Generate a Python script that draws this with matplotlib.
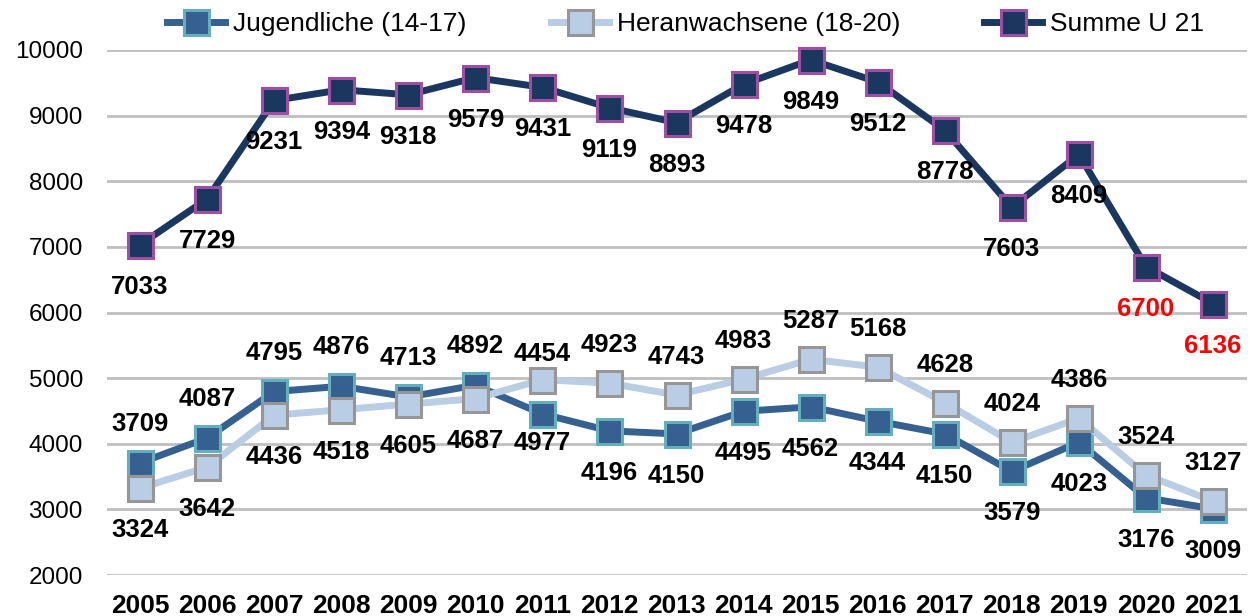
import matplotlib
matplotlib.use('Agg')
import matplotlib.pyplot as plt
import numpy as np

# daten
jahre = [str(j) for j in range(2005, 2022)]
jugendliche = [3709, 4087, 4795, 4876, 4713, 4892, 4454, 4196, 4150, 4495, 4562, 4344, 4150, 3579, 4023, 3176, 3009]
heranwachsende = [3324, 3642, 4436, 4518, 4605, 4687, 4977, 4923, 4743, 4983, 5287, 5168, 4628, 4024, 4386, 3524, 3127]
summe_u21 = [7033, 7729, 9231, 9394, 9318, 9579, 9431, 9119, 8893, 9478, 9849, 9512, 8778, 7603, 8409, 6700, 6136]
rot_markiert = ['2020', '2021']

# label-versatz in pixeln (positiv = oberhalb)
jug_dy = [39] * 6 + [60] + [-42] * 10
her_dy = [-42] * 6 + [-63] + [38] * 10
sum_dy = [-42] * 17

plt.rcParams['font.family'] = 'Liberation Sans'

fig = plt.figure(figsize=(12.51, 6.16), dpi=100)
ax = fig.add_axes([106.5 / 1251, 41 / 616, 1140 / 1251, 525 / 616])

x = np.arange(len(jahre))

serien = [
    ('Jugendliche (14-17)', jugendliche, '#36608F', '#36608F', '#64AFBF', jug_dy),
    ('Heranwachsene (18-20)', heranwachsende, '#B9CDE5', '#B9CDE5', '#969696', her_dy),
    ('Summe U 21', summe_u21, '#1A3760', '#1A3760', '#9E4FA3', sum_dy),
]

for name, werte, linie, fuell, rand, dys in serien:
    ax.plot(x, werte, '-s', color=linie, lw=5, ms=18, mfc=fuell, mec=rand, mew=2.2,
            label=name, clip_on=False)
    for i, v in enumerate(werte):
        farbe = 'red' if (name == 'Summe U 21' and jahre[i] in rot_markiert) else 'black'
        ax.annotate(str(v), (x[i], v), xytext=(0, dys[i]), textcoords='offset pixels',
                    ha='center', va='center', fontsize=18.5, fontweight='bold', color=farbe)

ax.set_xlim(-0.5, len(jahre) - 0.5)
ax.set_ylim(2000, 10000)
ax.set_yticks(np.arange(2000, 10001, 1000))
ax.set_xticks(x)
ax.set_xticklabels(jahre, fontsize=19, fontweight='bold')
ax.tick_params(axis='y', length=0, pad=17, labelsize=17.5)
ax.tick_params(axis='x', length=0, pad=14)
ax.grid(axis='y', color='#BFBFBF', lw=2)
ax.set_axisbelow(True)
for s in ax.spines.values():
    s.set_visible(False)

fig.legend(loc='center', bbox_to_anchor=(0.548, 1 - 24 / 616), ncol=3, frameon=False,
           fontsize=19, handlelength=2.2, handletextpad=0.3, columnspacing=3.2)

fig.savefig('out.png', dpi=100)
